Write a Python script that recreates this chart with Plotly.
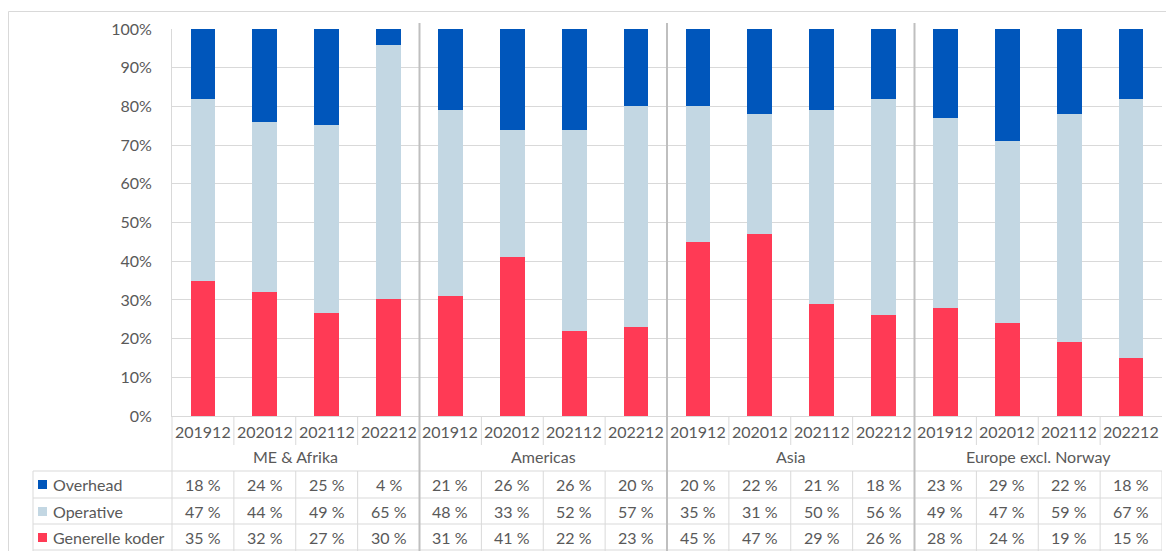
import plotly.graph_objects as go

# Regions and periods
groups = ["ME & Afrika", "Americas", "Asia", "Europe excl. Norway"]
periods = ["201912", "202012", "202112", "202212"]

# Share per series (percent), ordered group by group, period by period
overhead = [18, 24, 25, 4, 21, 26, 26, 20, 20, 22, 21, 18, 23, 29, 22, 18]
operative = [47, 44, 49, 65, 48, 33, 52, 57, 35, 31, 50, 56, 49, 47, 59, 67]
generelle = [35, 32, 27, 30, 31, 41, 22, 23, 45, 47, 29, 26, 28, 24, 19, 15]

series_names = ["Generelle koder", "Operative", "Overhead"]
series_colors = ["#FF3A55", "#C3D7E3", "#0056BB"]

FONT = "Lato"
FS = 16
TXT = "#595959"
GRID = "#D9D9D9"
SEP = "#BFBFBF"

W, H = 1166, 551
PL, PR, PT, PB = 172, 1162, 29, 416  # plot area in pixels

n = len(groups) * len(periods)
xs = list(range(n))


def py(p):
    """pixel row -> paper y"""
    return (PB - p) / (PB - PT)


def px(p):
    """pixel column -> paper x"""
    return (p - PL) / (PR - PL)


def label(x, xref, y, text, xanchor="center"):
    return dict(x=x, xref=xref, y=py(y), yref="paper", text=text, showarrow=False,
                xanchor=xanchor, yanchor="middle",
                font=dict(family=FONT, size=FS, color=TXT))


fig = go.Figure()
for name, vals, col in zip(series_names, [generelle, operative, overhead], series_colors):
    fig.add_trace(go.Bar(
        x=xs, y=vals, name=name, width=0.4,
        marker=dict(color=col, line=dict(width=0)),
        showlegend=False,
    ))

shapes = []
annotations = []

# period labels row
for i in xs:
    annotations.append(label(i, "x", 432, periods[i % 4]))
# vertical lines in period row
for i in range(n + 1):
    if i % 4 == 0:
        continue
    shapes.append(dict(type="line", xref="x", yref="paper", x0=i - 0.5, x1=i - 0.5,
                       y0=py(416), y1=py(445), line=dict(color=GRID, width=1)))
# group labels
for g, name in enumerate(groups):
    annotations.append(label(g * 4 + 1.5, "x", 457, name))

# data table rows (top row: Overhead)
row_tops = [471, 498, 524]
row_vals = [overhead, operative, generelle]
row_names = ["Overhead", "Operative", "Generelle koder"]
row_colors = ["#0056BB", "#C3D7E3", "#FF3A55"]
for r, top in enumerate(row_tops):
    cy = top + 13.5
    shapes.append(dict(type="line", xref="paper", yref="paper", x0=px(33), x1=px(PR),
                       y0=py(top), y1=py(top), line=dict(color=GRID, width=1)))
    shapes.append(dict(type="rect", xref="paper", yref="paper", x0=px(38), x1=px(47),
                       y0=py(cy - 4.5), y1=py(cy + 4.5), fillcolor=row_colors[r],
                       line=dict(width=0)))
    annotations.append(label(px(51), "paper", cy, row_names[r], xanchor="left"))
    for i in xs:
        annotations.append(label(i, "x", cy, f"{row_vals[r][i]} %"))
shapes.append(dict(type="line", xref="paper", yref="paper", x0=px(33), x1=px(PR),
                   y0=py(550), y1=py(550), line=dict(color=GRID, width=1)))
# table column lines
for i in range(1, n + 1):
    if i % 4 == 0 and i < n:
        continue
    shapes.append(dict(type="line", xref="x", yref="paper", x0=i - 0.5, x1=i - 0.5,
                       y0=py(471), y1=py(551), line=dict(color=GRID, width=1)))
shapes.append(dict(type="line", xref="paper", yref="paper", x0=px(33), x1=px(33),
                   y0=py(471), y1=py(551), line=dict(color=GRID, width=1)))
shapes.append(dict(type="line", xref="paper", yref="paper", x0=0, x1=0,
                   y0=py(416), y1=py(551), line=dict(color=GRID, width=1)))
# group separators
for g in range(1, len(groups)):
    shapes.append(dict(type="line", xref="x", yref="paper", x0=g * 4 - 0.5, x1=g * 4 - 0.5,
                       y0=py(23), y1=py(551), line=dict(color=SEP, width=2)))
# chart frame
shapes.append(dict(type="rect", xref="paper", yref="paper", x0=px(8.5), x1=px(1180),
                   y0=py(11.5), y1=py(570), line=dict(color=GRID, width=1),
                   fillcolor="rgba(0,0,0,0)"))

fig.update_layout(
    width=W, height=H,
    margin=dict(l=PL, r=W - PR, t=PT, b=H - PB, pad=0),
    barmode="stack", barnorm="fraction", bargap=0,
    plot_bgcolor="white", paper_bgcolor="white",
    shapes=shapes, annotations=annotations,
    font=dict(family=FONT, color=TXT),
)
fig.update_xaxes(range=[-0.5, n - 0.5], showticklabels=False, showgrid=False,
                 zeroline=False, showline=True, linecolor=GRID, linewidth=1, fixedrange=True)
fig.update_yaxes(range=[0, 1], dtick=0.1, tickformat=".0%", showgrid=True, gridcolor=GRID,
                 gridwidth=1, zeroline=False, showline=True, linecolor=GRID,
                 tickfont=dict(family=FONT, size=FS, color=TXT), ticklabelstandoff=16,
                 fixedrange=True)

fig.write_html("out.html")
